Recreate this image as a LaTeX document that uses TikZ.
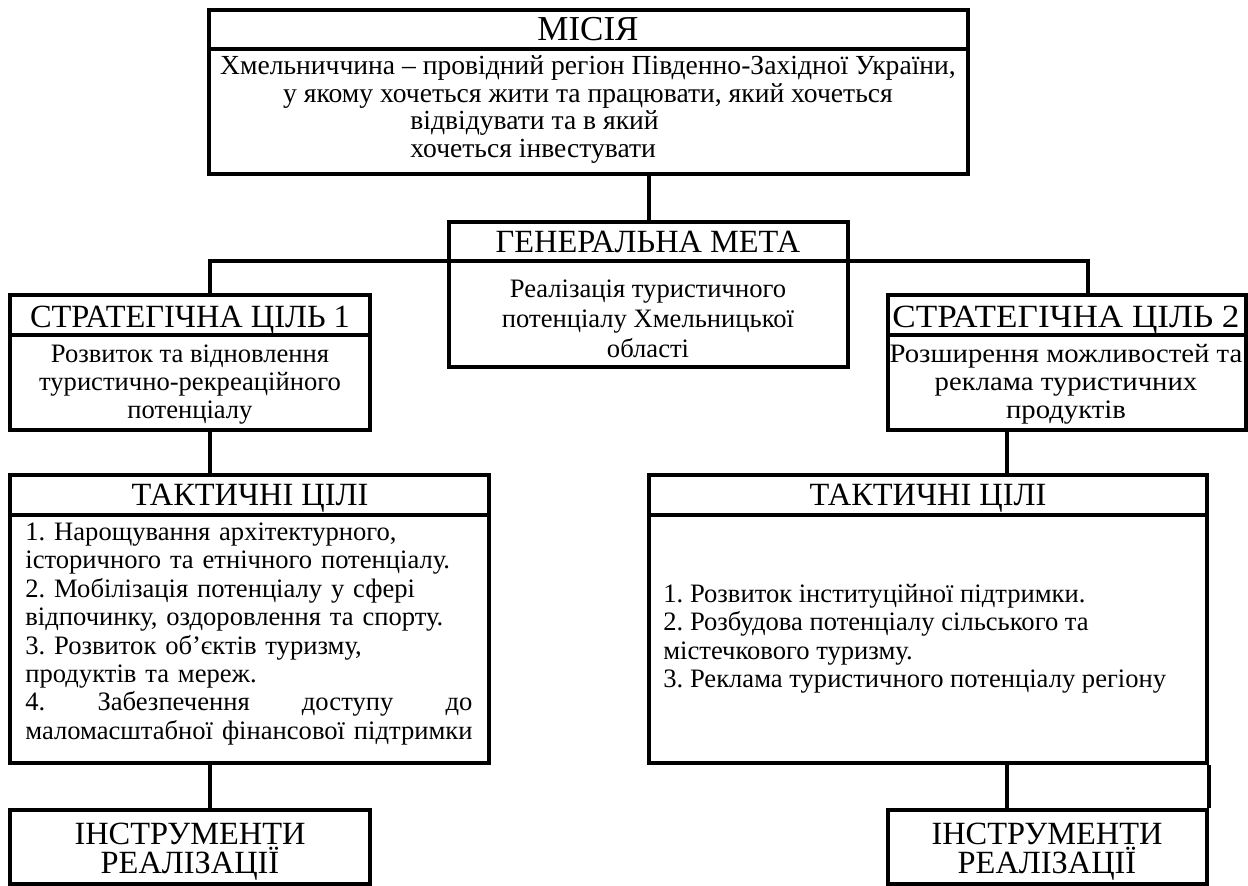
\documentclass[tikz,border=0pt]{standalone}
\usepackage{fontspec}
\setmainfont{Liberation Serif}
\usetikzlibrary{fit}
\frenchspacing
\newcommand\fsz[2]{\fontsize{#1}{#2}\selectfont}
\tikzset{
  box/.style={draw, line width=2pt, inner sep=0pt},
  sepline/.style={line width=1.6pt},
  conn/.style={line width=2pt},
  head/.style={anchor=base, inner sep=0pt, font=\fsz{16.2}{14.8}},
  body/.style={anchor=base, inner sep=0pt, font=\fsz{13.3}{14.15}, align=center},
}
\begin{document}
\begin{tikzpicture}[x=0.5pt,y=-0.5pt]
\useasboundingbox (0,0) rectangle (1248,886);
% boxes
\node[box, fit={(209,10) (968,174)}] (mis) {};
\node[box, fit={(449,222) (848,367)}] (gm) {};
\node[box, fit={(10,295) (370,430)}] (s1) {};
\node[box, fit={(888,295) (1246,430)}] (s2) {};
\node[box, fit={(10,475) (489,763)}] (t1) {};
\node[box, fit={(649,475) (1207,763)}] (t2) {};
\node[box, fit={(10,810) (370,884)}] (i1) {};
\node[box, fit={(888,810) (1207,884)}] (i2) {};
% header separators
\draw[sepline] (mis.west |- 0,49) -- (mis.east |- 0,49);
\draw[sepline] (gm.west |- 0,261) -- (gm.east |- 0,261);
\draw[sepline] (s1.west |- 0,335) -- (s1.east |- 0,335);
\draw[sepline] (s2.west |- 0,335) -- (s2.east |- 0,335);
\draw[sepline] (t1.west |- 0,515) -- (t1.east |- 0,515);
\draw[sepline] (t2.west |- 0,515) -- (t2.east |- 0,515);
% connectors
\coordinate (j1) at (210,261);
\coordinate (j2) at (1088,261);
\coordinate (lx) at (210,0);
\coordinate (rx) at (1007,0);
\draw[conn] (mis.south -| gm.north) -- (gm.north);
\draw[conn] (gm.west |- j1) -- (j1) -- (j1 |- s1.north);
\draw[conn] (gm.east |- j2) -- (j2) -- (j2 |- s2.north);
\draw[conn] (s1.south -| lx) -- (t1.north -| lx);
\draw[conn] (t1.south -| lx) -- (i1.north -| lx);
\draw[conn] (s2.south -| rx) -- (t2.north -| rx);
\draw[conn] (t2.south -| rx) -- (i2.north -| rx);
\draw[conn] (t2.south east) -- (i2.north east);
% texts
\node[head, font=\fsz{17.5}{17.5}] (misH) at (588,41) {МІСІЯ};
\node[body, font=\fsz{13.8}{13.75}] (misB1) at (588,102.5) {Хмельниччина – провідний регіон Південно-Західної України,\\у якому хочеться жити та працювати, який хочеться};
\node[body, font=\fsz{13.8}{13.75}, anchor=base west, align=left] (misB2) at (410,157.5) {відвідувати та в який\\хочеться інвестувати};
\node[head] (gmH) at (648,253) {ГЕНЕРАЛЬНА МЕТА};
\node[body, font=\fsz{13.3}{15}] (gmB) at (648,358) {Реалізація туристичного\\потенціалу Хмельницької\\області};
\node[head] (s1H) at (190,328) {СТРАТЕГІЧНА ЦІЛЬ 1};
\node[body] (s1B) at (190,419) {Розвиток та відновлення\\туристично-рекреаційного\\потенціалу};
\node[head] (s2H) at (1066,328) {\scalebox{1.085}[1]{СТРАТЕГІЧНА ЦІЛЬ 2}};
\node[body] (s2B) at (1066,419) {\scalebox{1.08}[1]{\begin{tabular}[b]{@{}c@{}}Розширення можливостей та\\реклама туристичних\\продуктів\end{tabular}}};
\node[head] (t1H) at (250,506) {ТАКТИЧНІ ЦІЛІ};
\node[body, font=\fsz{13.3}{14.2}, anchor=base west, align=left, text width=224pt] (t1B) at (25,540.5) {1. Нарощування архітектурного,\\історичного та етнічного потенціалу.\\2. Мобілізація потенціалу у сфері\\відпочинку, оздоровлення та спорту.\\3. Розвиток об’єктів туризму,\\продуктів та мереж.\\\leavevmode\hbox to 223.5pt{4.\hfill Забезпечення\hfill доступу\hfill до}\\маломасштабної фінансової підтримки};
\node[head] (t2H) at (928,506) {ТАКТИЧНІ ЦІЛІ};
\node[body, font=\fsz{13.3}{14.3}, anchor=base west, align=left] (t2B) at (663,688) {1. Розвиток інституційної підтримки.\\2. Розбудова потенціалу сільського та\\містечкового туризму.\\3. Реклама туристичного потенціалу регіону};
\node[head, align=center] (i1T) at (190,874) {ІНСТРУМЕНТИ\\РЕАЛІЗАЦІЇ};
\node[head, align=center] (i2T) at (1047,874) {ІНСТРУМЕНТИ\\РЕАЛІЗАЦІЇ};
\end{tikzpicture}
\end{document}
